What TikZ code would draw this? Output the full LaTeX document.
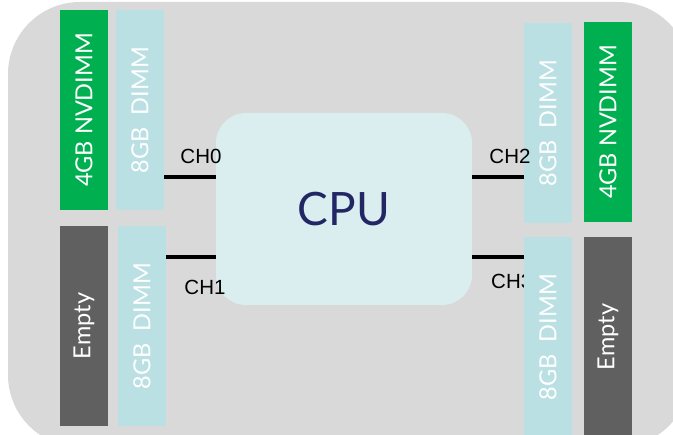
\documentclass[tikz,border=0pt]{standalone}
\usepackage{fontspec}
\setmainfont{Liberation Sans}
\newfontfamily\dimmfont{Lato}
\usetikzlibrary{positioning}
\definecolor{boardgray}{RGB}{217,217,217}
\definecolor{nvgreen}{RGB}{0,176,80}
\definecolor{dimmblue}{RGB}{186,224,227}
\definecolor{emptygray}{RGB}{96,96,96}
\definecolor{cpufill}{RGB}{218,238,240}
\definecolor{cpunavy}{RGB}{35,38,100}

\begin{document}
\begin{tikzpicture}[x=1pt,y=1pt,
  module/.style={rotate=90,minimum width=200pt,minimum height=48pt,inner sep=0pt,text=white,font=\dimmfont\fontsize{23.5}{24}\selectfont},
  bus/.style={line width=4.5pt},
  chlabel/.style={font=\fontsize{20.5}{22}\selectfont,inner sep=0pt}]
  \useasboundingbox (0,0) rectangle (673,435);
  \clip (0,0) rectangle (673,435);
  \fill[boardgray,rounded corners=72pt] (8,-12) rectangle (690,433);
  % processor
  \node[fill=cpufill,rounded corners=30pt,minimum width=256pt,minimum height=192pt,text=cpunavy,font=\dimmfont\fontsize{46}{48}\selectfont] (cpu) at (344,226) {CPU};
  % channels
  \coordinate (ch0) at (190,258);
  \coordinate (ch1) at (190,178);
  \coordinate (ch2) at (500,258);
  \coordinate (ch3) at (500,178);
  \node[chlabel,anchor=west] (lab3) at (491,154) {CH3};
  % memory slots
  \node[module,fill=nvgreen] (nvdimmL) at (84,325) {4GB NVDIMM};
  \node[module,fill=dimmblue] (dimm0) at (140,325) {8GB\ \ DIMM};
  \node[module,fill=emptygray] (emptyL) at (84,109) {Empty};
  \node[module,fill=dimmblue] (dimm1) at (142,109) {8GB\ \ DIMM};
  \node[module,fill=dimmblue] (dimm2) at (548,312) {8GB\ \ DIMM};
  \node[module,fill=nvgreen] (nvdimmR) at (608,313) {4GB NVDIMM};
  \node[module,fill=dimmblue] (dimm3) at (548,98) {8GB\ \ DIMM};
  \node[module,fill=emptygray] (emptyR) at (608,98) {Empty};
  \draw[bus] (ch0 -| dimm0.south) -- (ch0 -| cpu.west);
  \draw[bus] (ch1 -| dimm1.south) -- (ch1 -| cpu.west);
  \draw[bus] (ch2 -| cpu.east) -- (ch2 -| dimm2.north);
  \draw[bus] (ch3 -| cpu.east) -- (ch3 -| dimm3.north);
  \node[chlabel] (lab0) at (201,279) {CH0};
  \node[chlabel] (lab1) at (205,148) {CH1};
  \node[chlabel] (lab2) at (510,279) {CH2};
\end{tikzpicture}
\end{document}
